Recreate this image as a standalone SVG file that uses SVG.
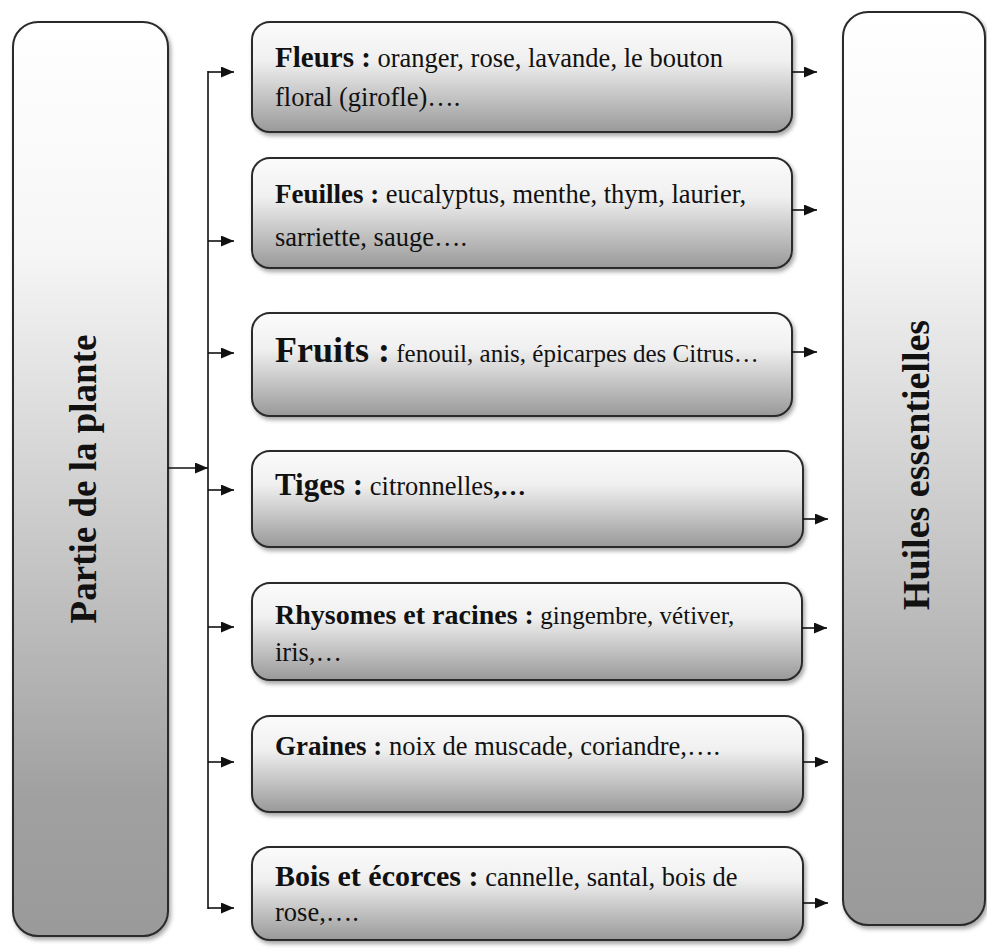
<svg xmlns="http://www.w3.org/2000/svg" width="987" height="949" viewBox="0 0 987 949">
<defs>
<linearGradient id="gBox" x1="0" y1="0" x2="0" y2="1">
<stop offset="0" stop-color="#fbfbfb"/>
<stop offset="0.35" stop-color="#f0f0f0"/>
<stop offset="1" stop-color="#999999"/>
</linearGradient>
<linearGradient id="gTall" x1="0" y1="0" x2="0" y2="1">
<stop offset="0" stop-color="#ffffff"/>
<stop offset="0.25" stop-color="#f6f6f6"/>
<stop offset="0.85" stop-color="#a0a0a0"/>
<stop offset="1" stop-color="#9a9a9a"/>
</linearGradient>
<filter id="sh" x="-5%" y="-5%" width="112%" height="115%">
<feDropShadow dx="2" dy="3" stdDeviation="2" flood-color="#000" flood-opacity="0.35"/>
</filter>
<marker id="ah" viewBox="0 0 13 11" refX="13" refY="5.5" markerWidth="13" markerHeight="11" markerUnits="userSpaceOnUse" orient="auto">
<path d="M0,0 L13,5.5 L0,11 z" fill="#111"/>
</marker>
</defs>
<style>
.box{fill:url(#gBox);stroke:#2a2a2a;stroke-width:2;filter:url(#sh)}
.tall{fill:url(#gTall);stroke:#2a2a2a;stroke-width:2;filter:url(#sh)}
text{font-family:"Liberation Serif","Times New Roman",serif;fill:#111}
.b{font-weight:bold;font-size:28px}
.r{font-size:26.5px;font-weight:normal}
.big{font-weight:bold;font-size:37px}
.ln{stroke:#111;stroke-width:1.6;fill:none}
.ar{stroke:#111;stroke-width:1.6;fill:none;marker-end:url(#ah)}
</style>
<rect width="987" height="949" fill="#ffffff"/>

<g id="partie">
<rect class="tall" x="13" y="22" width="155" height="914" rx="25"/>
<text class="big" transform="translate(96,479) rotate(-90)" text-anchor="middle">Partie de la plante</text>
</g>

<g id="huiles">
<rect class="tall" x="843" y="12" width="142" height="913" rx="25"/>
<text class="big" style="font-size:38px" transform="translate(929,465) rotate(-90)" text-anchor="middle">Huiles essentielles</text>
</g>

<g id="fleurs">
<rect class="box" x="252" y="22" width="540" height="110" rx="18"/>
<text x="275" y="67"><tspan class="b" style="font-size:29px">Fleurs :</tspan><tspan class="r"> oranger, rose, lavande, le bouton</tspan></text>
<text class="r" x="275" y="106">floral (girofle)….</text>
</g>

<g id="feuilles">
<rect class="box" x="252" y="158" width="540" height="110" rx="18"/>
<text x="275" y="203"><tspan class="b" style="font-size:27px">Feuilles :</tspan><tspan class="r"> eucalyptus, menthe, thym, laurier,</tspan></text>
<text class="r" x="275" y="246">sarriette, sauge….</text>
</g>

<g id="fruits">
<rect class="box" x="252" y="313" width="540" height="103" rx="18"/>
<text x="275" y="362"><tspan class="b" style="font-size:36px">Fruits :</tspan><tspan class="r" style="font-size:25px"> fenouil, anis, épicarpes des Citrus…</tspan></text>
</g>

<g id="tiges">
<rect class="box" x="252" y="451" width="551" height="96" rx="18"/>
<text x="275" y="495"><tspan class="b" style="font-size:31px">Tiges :</tspan><tspan class="r"> citronnelles</tspan><tspan class="b" style="font-size:26px">,…</tspan></text>
</g>

<g id="rhysomes">
<rect class="box" x="252" y="583" width="550" height="97" rx="18"/>
<text x="275" y="624"><tspan class="b">Rhysomes et racines :</tspan><tspan class="r" style="font-size:25px"> gingembre, vétiver,</tspan></text>
<text class="r" x="275" y="661">iris,…</text>
</g>

<g id="graines">
<rect class="box" x="252" y="716" width="551" height="96" rx="18"/>
<text x="275" y="755"><tspan class="b" style="font-size:27px">Graines :</tspan><tspan class="r"> noix de muscade, coriandre,….</tspan></text>
</g>

<g id="bois">
<rect class="box" x="252" y="847" width="551" height="93" rx="18"/>
<text x="275" y="886"><tspan class="b" style="font-size:30px">Bois et écorces :</tspan><tspan class="r"> cannelle, santal, bois de</tspan></text>
<text class="r" x="275" y="921">rose,….</text>
</g>

<g id="connectors">
<line class="ln" x1="208" y1="71" x2="208" y2="909"/>
<line class="ar" x1="168" y1="468" x2="208" y2="468"/>
<line class="ar" x1="208" y1="72" x2="234" y2="72"/>
<line class="ar" x1="208" y1="241" x2="234" y2="241"/>
<line class="ar" x1="208" y1="353" x2="234" y2="353"/>
<line class="ar" x1="208" y1="490" x2="234" y2="490"/>
<line class="ar" x1="208" y1="627" x2="234" y2="627"/>
<line class="ar" x1="208" y1="762" x2="234" y2="762"/>
<line class="ar" x1="208" y1="908" x2="234" y2="908"/>
<line class="ar" x1="792" y1="72" x2="817" y2="72"/>
<line class="ar" x1="792" y1="210" x2="817" y2="210"/>
<line class="ar" x1="792" y1="352" x2="817" y2="352"/>
<line class="ar" x1="803" y1="519" x2="828" y2="519"/>
<line class="ar" x1="802" y1="628" x2="827" y2="628"/>
<line class="ar" x1="803" y1="762" x2="828" y2="762"/>
<line class="ar" x1="803" y1="903" x2="828" y2="903"/>
</g>
</svg>
